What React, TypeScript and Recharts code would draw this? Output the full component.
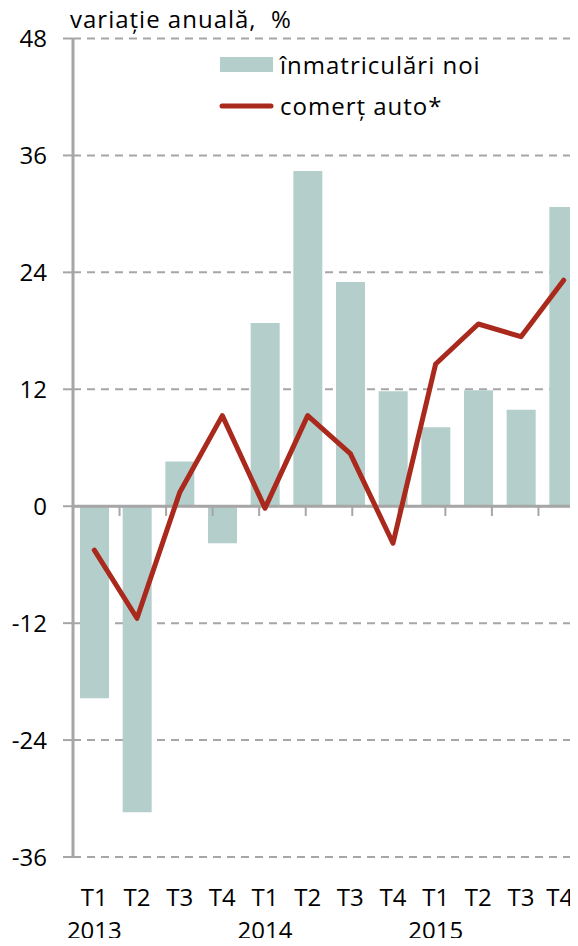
import React from "react";
import {
  ComposedChart,
  Bar,
  Line,
  XAxis,
  YAxis,
  CartesianGrid,
  ReferenceLine,
  Legend,
} from "recharts";

const quarters = ["T1", "T2", "T3", "T4", "T1", "T2", "T3", "T4", "T1", "T2", "T3", "T4"];
const years = ["2013", "", "", "", "2014", "", "", "", "2015", "", "", ""];
const registrations = [-19.7, -31.4, 4.6, -3.8, 18.8, 34.4, 23.0, 11.8, 8.1, 11.9, 9.9, 30.7];
const autoTrade = [-4.5, -11.5, 1.4, 9.3, -0.2, 9.3, 5.4, -3.8, 14.6, 18.7, 17.4, 23.2];
const yTicks = [-36, -24, -12, 0, 12, 24, 36, 48];

const data = quarters.map((q, i) => ({
  period: `${q} ${years[i] || i}`,
  registrations: registrations[i],
  autoTrade: autoTrade[i],
}));

// category boundaries, for the small ticks under the zero line
const edges = quarters.slice(1).map((_, i) => i + 1);

const FONT = "'Open Sans', sans-serif";
const GRAY = "#A6A6A6";
const BAR = "#B4CECB";
const RED = "#AA291D";

const QuarterTick = (props: any) => {
  const { x, y, index } = props;
  // keep the last label inside the picture
  const dx = index === quarters.length - 1 ? -4 : 0;
  return (
    <g>
      <text x={x + dx} y={y} dy={49} textAnchor="middle" fontSize={24} fontFamily={FONT} fill="#000">
        {quarters[index]}
      </text>
      {years[index] && (
        <text x={x} y={y} dy={82} textAnchor="middle" fontSize={24} fontFamily={FONT} fill="#000">
          {years[index]}
        </text>
      )}
    </g>
  );
};

const renderLegend = () => (
  <svg width={320} height={80} style={{ display: "block" }}>
    <rect x={10} y={12} width={53} height={15} fill={BAR} />
    <text x={70} y={29} fontSize={24} letterSpacing={1} fontFamily={FONT} fill="#000">
      înmatriculări noi
    </text>
    <line x1={12} y1={61} x2={61} y2={61} stroke={RED} strokeWidth={5} strokeLinecap="round" />
    <text x={70} y={70} fontSize={24} letterSpacing={1} fontFamily={FONT} fill="#000">
      comerț auto*
    </text>
  </svg>
);

export default function App() {
  return (
    <div style={{ position: "relative", margin: -8, width: 578, height: 946, overflow: "hidden", background: "#fff" }}>
      <svg width={400} height={40} style={{ position: "absolute", left: 0, top: 0 }}>
        <text x={70} y={28} fontSize={24} letterSpacing={1} fontFamily={FONT} fill="#000" xmlSpace="preserve">
          variație anuală,  %
        </text>
      </svg>
      <ComposedChart
        width={600}
        height={946}
        data={data}
        margin={{ top: 38.5, right: 15, bottom: 29, left: 0 }}
      >
        <CartesianGrid vertical={false} stroke={GRAY} strokeWidth={2} strokeDasharray="8 6" />
        <XAxis
          dataKey="period"
          axisLine={false}
          tickLine={false}
          tickSize={0}
          tickMargin={0}
          interval={0}
          height={60}
          tick={<QuarterTick />}
        />
        <XAxis xAxisId="edges" type="number" domain={[0, quarters.length]} hide />
        <YAxis
          domain={[-36, 48]}
          ticks={yTicks}
          interval={0}
          width={73}
          axisLine={{ stroke: GRAY, strokeWidth: 3 }}
          tickLine={{ stroke: GRAY, strokeWidth: 2 }}
          tickSize={10}
          tickMargin={16}
          tick={{ fontSize: 24, fontFamily: FONT, fill: "#000" }}
        />
        <Legend
          layout="vertical"
          align="center"
          verticalAlign="middle"
          content={renderLegend}
          wrapperStyle={{ position: "absolute", left: 210, top: 45, width: 320, height: 80 }}
        />
        <Bar dataKey="registrations" name="înmatriculări noi" fill={BAR} barSize={29} isAnimationActive={false} />
        <ReferenceLine y={0} stroke={GRAY} strokeWidth={3} />
        {edges.map((e) => (
          <ReferenceLine
            key={e}
            xAxisId="edges"
            segment={[{ x: e, y: 0 }, { x: e, y: -1 }]}
            stroke={GRAY}
            strokeWidth={2}
          />
        ))}
        <Line
          dataKey="autoTrade"
          name="comerț auto*"
          stroke={RED}
          strokeWidth={5}
          strokeLinecap="round"
          strokeLinejoin="round"
          dot={false}
          activeDot={false}
          isAnimationActive={false}
        />
      </ComposedChart>
    </div>
  );
}
